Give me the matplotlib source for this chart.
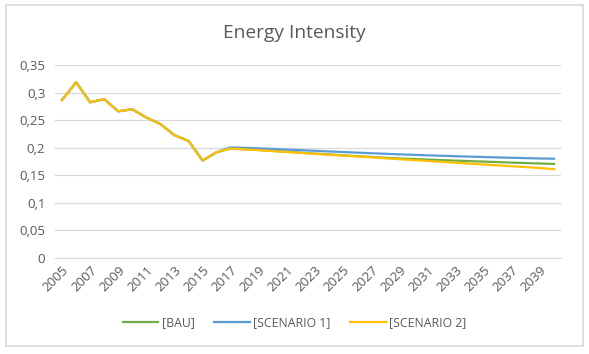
import numpy as np
import matplotlib
matplotlib.use('Agg')
import matplotlib.pyplot as plt
from matplotlib.patches import Rectangle

years = list(range(2005, 2041))

# shared history 2005-2016
history = [0.2866, 0.3186, 0.2824, 0.2880, 0.2660, 0.2697,
           0.2546, 0.2430, 0.2226, 0.2123, 0.1767, 0.1919]

bau = history + [0.1985, 0.1972, 0.1958, 0.1942, 0.1926, 0.1910, 0.1894, 0.1878,
                 0.1862, 0.1847, 0.1833, 0.1818, 0.1805, 0.1795, 0.1785, 0.1775,
                 0.1766, 0.1757, 0.1748, 0.1739, 0.1730, 0.1722, 0.1714, 0.1706]
scenario1 = history + [0.2005, 0.1998, 0.1988, 0.1978, 0.1966, 0.1955, 0.1944, 0.1933,
                       0.1922, 0.1911, 0.1900, 0.1890, 0.1880, 0.1871, 0.1862, 0.1854,
                       0.1846, 0.1838, 0.1831, 0.1824, 0.1817, 0.1811, 0.1805, 0.1800]
scenario2 = history + [0.1985, 0.1970, 0.1955, 0.1938, 0.1922, 0.1905, 0.1889, 0.1873,
                       0.1857, 0.1841, 0.1825, 0.1808, 0.1792, 0.1776, 0.1760, 0.1744,
                       0.1728, 0.1712, 0.1696, 0.1680, 0.1664, 0.1648, 0.1632, 0.1610]

series = [('[BAU]', bau, '#70AD47'),
          ('[SCENARIO 1]', scenario1, '#5B9BD5'),
          ('[SCENARIO 2]', scenario2, '#FFC000')]

plt.rcParams['font.family'] = ['Open Sans', 'DejaVu Sans']
text_col = '#595959'
grid_col = '#D9D9D9'

fig = plt.figure(figsize=(5.89, 3.54), dpi=100)
fig.patches.append(Rectangle((6 / 589, 1 - 346 / 354), 577 / 589, 341 / 354,
                             transform=fig.transFigure, fill=False,
                             edgecolor=grid_col, linewidth=1.2))

ax = fig.add_axes([55 / 589, 1 - 258 / 354, 506 / 589, 193 / 354])
x = np.arange(len(years))
for name, vals, col in series:
    ax.plot(x, vals, color=col, lw=1.6, label=name, solid_joinstyle='round')

ax.set_xlim(-0.5, len(years) - 0.5)
ax.set_ylim(0, 0.35)
ax.set_yticks(np.arange(0, 0.351, 0.05))
ax.set_yticklabels(['0', '0,05', '0,1', '0,15', '0,2', '0,25', '0,3', '0,35'])
ax.set_xticks(x[::2])
ax.set_xticklabels([str(y) for y in years[::2]], rotation=45, ha='right',
                   rotation_mode='anchor')
ax.tick_params(axis='both', length=0, colors=text_col, labelsize=9.5)
ax.tick_params(axis='x', pad=4)
ax.tick_params(axis='y', pad=7)
ax.grid(axis='y', color=grid_col, lw=0.9)
ax.set_axisbelow(True)
for s in ['top', 'right', 'left']:
    ax.spines[s].set_visible(False)
ax.spines['bottom'].set_color(grid_col)

fig.text(0.5, 1 - 33 / 354, 'Energy Intensity', ha='center', va='center',
         fontsize=13.8, color=text_col)

fig.legend(loc='center', bbox_to_anchor=(0.5, 1 - 323 / 354), ncol=3,
           frameon=False, fontsize=8.8, labelcolor=text_col, handlelength=2.9,
           columnspacing=1.6, handletextpad=0.3)

fig.savefig('out.png', dpi=100)
